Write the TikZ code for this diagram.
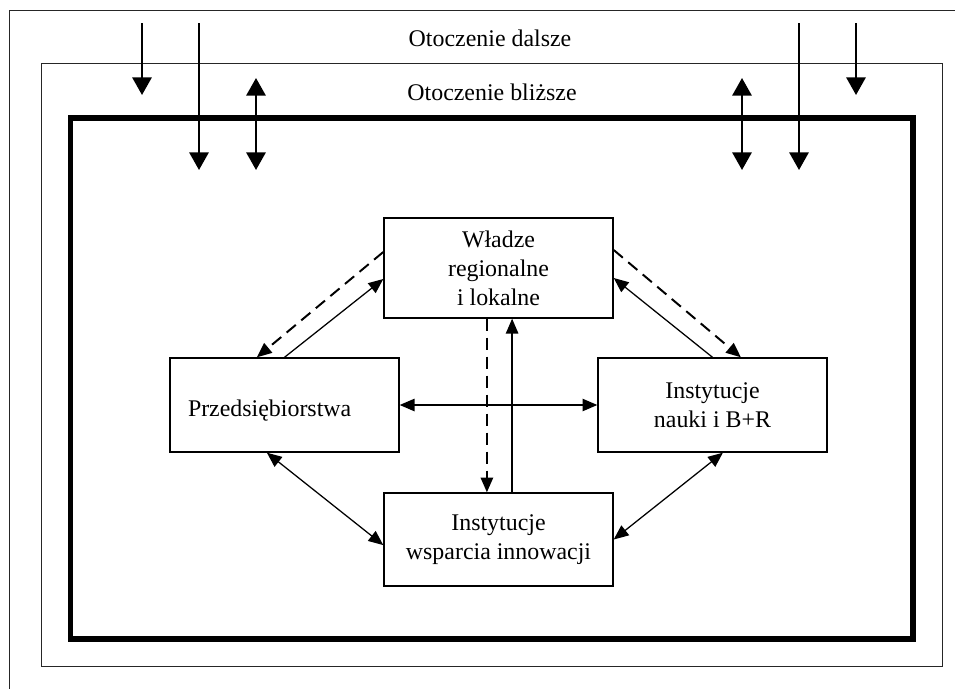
\documentclass[tikz,border=0pt]{standalone}
\usepackage{fontspec}
\setmainfont{Liberation Serif}
\usepackage{tikz}
\usetikzlibrary{arrows.meta}

\begin{document}
\begin{tikzpicture}[
    box/.style={rectangle, draw=black, line width=1pt, align=center, minimum width=5.725cm, inner sep=0pt, font=\fontsize{17}{20.5}\selectfont},
    label/.style={font=\fontsize{17}{20.5}\selectfont},
    frame/.style={draw=black!85, line width=0.7pt},
    thickframe/.style={draw=black, line width=3.9pt},
    envarrow/.style={-{Triangle[length=0.44cm, width=0.48cm]}, line width=1.6pt},
    envboth/.style={{Triangle[length=0.44cm, width=0.48cm]}-{Triangle[length=0.44cm, width=0.48cm]}, line width=1.6pt},
    link/.style={-{Triangle[length=0.37cm, width=0.31cm]}, line width=0.9pt},
    bothlink/.style={{Triangle[length=0.37cm, width=0.31cm]}-{Triangle[length=0.37cm, width=0.31cm]}, line width=0.9pt},
    dashedlink/.style={-{Triangle[length=0.37cm, width=0.31cm]}, line width=1.4pt, dash pattern=on 8.5pt off 5pt}
]
\useasboundingbox (0,0) rectangle (23.875,-17.225);

% Environment frames
\draw[frame] (23.875,-0.25) -| (0.225,-17.225);
\draw[frame] (1.025,-1.575) rectangle (23.55,-16.65);
\draw[thickframe] (1.7625,-2.95) rectangle (22.825,-15.975);

\node[label] (far) at (12.25,-0.95) {Otoczenie dalsze};
\node[label] (near) at (12.3,-2.3) {Otoczenie bliższe};

% Actors
\node[box, minimum height=2.5cm] (wladze) at (12.4625,-6.7) {Władze\\regionalne\\i lokalne};
\node[box, minimum height=2.35cm, align=left, text width=4.825cm, inner xsep=0.45cm, text height=0.71cm] (firmy) at (7.1125,-10.125) {Przedsiębiorstwa};
\node[box, minimum height=2.35cm] (nauka) at (17.8125,-10.125) {Instytucje\\nauki i B+R};
\node[box, minimum height=2.325cm] (wsparcie) at (12.4625,-13.4875) {Instytucje\\wsparcia innowacji};

% Ends of the environment arrows
\coordinate (e1a) at (3.55,-0.575);   \coordinate (e1b) at (3.55,-2.375);
\coordinate (e2a) at (4.975,-0.575);  \coordinate (e2b) at (4.975,-4.25);
\coordinate (e3a) at (6.4,-1.95);     \coordinate (e3b) at (6.4,-4.25);
\coordinate (e4a) at (18.55,-1.95);   \coordinate (e4b) at (18.55,-4.25);
\coordinate (e5a) at (19.975,-0.575); \coordinate (e5b) at (19.975,-4.25);
\coordinate (e6a) at (21.4,-0.575);   \coordinate (e6b) at (21.4,-2.375);

% Environment arrows
\draw[envarrow] (e1a) -- (e1b);
\draw[envarrow] (e2a) -- (e2b);
\draw[envboth] (e3a) -- (e3b);
\draw[envboth] (e4a) -- (e4b);
\draw[envarrow] (e5a) -- (e5b);
\draw[envarrow] (e6a) -- (e6b);

% Links between actors
\draw[dashedlink] ([yshift=0.4cm]wladze.west) -- ([xshift=-0.69cm]firmy.north);
\draw[link] (firmy.north) -- ([yshift=-0.275cm]wladze.west);
\draw[dashedlink] ([yshift=0.45cm]wladze.east) -- ([xshift=0.71cm]nauka.north);
\draw[link] (nauka.north) -- ([yshift=-0.25cm]wladze.east);
\draw[dashedlink] ([xshift=-0.29cm]wladze.south) -- ([xshift=-0.29cm]wsparcie.north);
\draw[link] ([xshift=0.34cm]wsparcie.north) -- ([xshift=0.34cm]wladze.south);
\draw[bothlink] (firmy.east) -- (nauka.west);
\draw[bothlink] ([xshift=-0.44cm]firmy.south) -- ([yshift=-0.14cm]wsparcie.west);
\draw[bothlink] ([xshift=0.26cm]nauka.south) -- (wsparcie.east);

\end{tikzpicture}
\end{document}
